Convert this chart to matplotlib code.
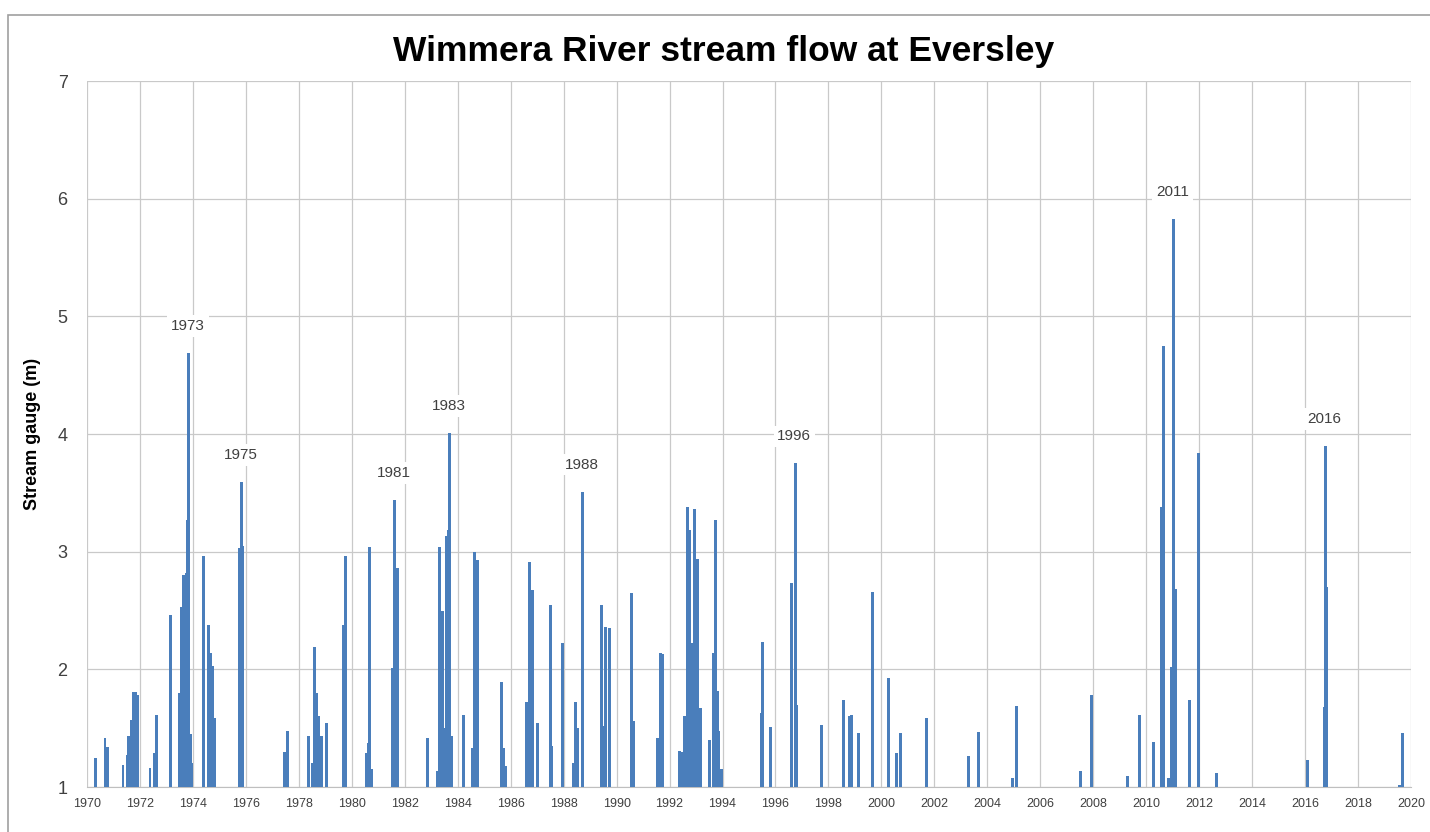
import matplotlib
matplotlib.use("Agg")
import matplotlib.pyplot as plt
from matplotlib.patches import Rectangle
import numpy as np

plt.rcParams['font.family'] = ['Liberation Sans', 'DejaVu Sans']

# Spike dates (decimal years) and stream gauge heights (m)
dates = [1970.33, 1970.68, 1970.77, 1971.36, 1971.51, 1971.58, 1971.68, 1971.77, 1971.85, 1971.92,
         1972.38, 1972.53, 1972.62, 1973.16, 1973.51, 1973.57, 1973.66, 1973.74, 1973.79, 1973.85,
         1973.91, 1973.94, 1974.39, 1974.60, 1974.68, 1974.75, 1974.83, 1975.74, 1975.84, 1975.89,
         1977.47, 1977.58, 1978.38, 1978.50, 1978.60, 1978.68, 1978.75, 1978.85, 1979.06, 1979.70,
         1979.77, 1980.57, 1980.62, 1980.68, 1980.75, 1981.55, 1981.61, 1981.68, 1981.74, 1982.87,
         1983.25, 1983.32, 1983.42, 1983.50, 1983.58, 1983.65, 1983.70, 1983.76, 1984.23, 1984.57,
         1984.64, 1984.75, 1985.66, 1985.74, 1985.81, 1986.60, 1986.72, 1986.83, 1987.02, 1987.50,
         1987.56, 1987.97, 1988.38, 1988.45, 1988.53, 1988.71, 1989.42, 1989.48, 1989.58, 1989.74,
         1990.55, 1990.64, 1991.53, 1991.65, 1991.72, 1992.38, 1992.49, 1992.58, 1992.67, 1992.75,
         1992.85, 1992.94, 1993.07, 1993.17, 1993.51, 1993.66, 1993.74, 1993.80, 1993.85, 1993.96,
         1995.47, 1995.52, 1995.81, 1996.60, 1996.75, 1996.80, 1997.74, 1998.57, 1998.79, 1998.87,
         1999.13, 1999.66, 2000.26, 2000.57, 2000.72, 2001.70, 2003.28, 2003.66, 2004.94, 2005.09,
         2007.51, 2007.92, 2009.28, 2009.74, 2010.26, 2010.58, 2010.64, 2010.85, 2010.96, 2011.04,
         2011.09, 2011.62, 2011.96, 2012.64, 2016.09, 2016.72, 2016.76, 2016.80, 2019.58, 2019.68]
gauge = [1.25, 1.42, 1.34, 1.19, 1.27, 1.43, 1.57, 1.81, 1.81, 1.78,
         1.16, 1.29, 1.61, 2.46, 1.80, 2.53, 2.80, 2.82, 3.27, 4.69,
         1.45, 1.20, 2.96, 2.38, 2.14, 2.03, 1.59, 3.03, 3.59, 3.05,
         1.30, 1.48, 1.43, 1.20, 2.19, 1.80, 1.60, 1.43, 1.54, 2.38,
         2.96, 1.29, 1.37, 3.04, 1.15, 2.01, 3.44, 2.00, 2.86, 1.42,
         1.14, 3.04, 2.50, 1.50, 3.13, 3.18, 4.01, 1.43, 1.61, 1.33,
         3.00, 2.93, 1.89, 1.33, 1.18, 1.72, 2.91, 2.67, 1.54, 2.55,
         1.35, 2.22, 1.20, 1.72, 1.50, 3.51, 2.55, 1.52, 2.36, 2.35,
         2.65, 1.56, 1.42, 2.14, 2.13, 1.31, 1.30, 1.60, 3.38, 3.18,
         2.22, 3.36, 2.94, 1.67, 1.40, 2.14, 3.27, 1.82, 1.48, 1.15,
         1.63, 2.23, 1.51, 2.73, 3.75, 1.70, 1.53, 1.74, 1.60, 1.61,
         1.46, 2.66, 1.93, 1.29, 1.46, 1.59, 1.26, 1.47, 1.08, 1.69,
         1.14, 1.78, 1.09, 1.61, 1.38, 3.38, 4.75, 1.08, 2.02, 5.83,
         2.68, 1.74, 3.84, 1.12, 1.23, 1.68, 3.90, 2.70, 1.02, 1.46]

# Annotated flood years and the date of their peak
flood_labels = ['1973', '1975', '1981', '1983', '1988', '1996', '2011', '2016']
flood_peak_dates = [1973.85, 1975.84, 1981.61, 1983.70, 1988.71, 1996.75, 2011.04, 2016.76]

x_ticks = list(range(1970, 2021, 2))
y_ticks = [1, 2, 3, 4, 5, 6, 7]
baseline = 1.0

fig = plt.figure(figsize=(14.30, 8.32), dpi=100)
ax = fig.add_axes([87/1430, 1-787/832, (1411-87)/1430, (787-81)/832])

d = np.array(dates)
g = np.array(gauge)
ax.bar(d, g - baseline, bottom=baseline, width=0.11, color='#4a7ebb', edgecolor='none', zorder=3)

ax.set_xlim(1970, 2020)
ax.set_ylim(1, 7)
ax.set_xticks(x_ticks)
ax.set_xticklabels([str(t) for t in x_ticks], fontsize=9, color='#404040')
ax.set_yticks(y_ticks)
ax.set_yticklabels([str(t) for t in y_ticks], fontsize=13, color='#404040')
ax.tick_params(axis='both', length=0)
ax.tick_params(axis='x', pad=8)
ax.tick_params(axis='y', pad=14)
ax.grid(True, color='#c9c9c9', linewidth=0.9, zorder=0)
ax.set_axisbelow(True)
for s in ['top', 'right', 'left']:
    ax.spines[s].set_visible(False)
ax.spines['bottom'].set_color('#bfbfbf')

ax.set_ylabel('Stream gauge (m)', fontsize=13, fontweight='bold', labelpad=12)

for lab, pd in zip(flood_labels, flood_peak_dates):
    idx = int(np.argmin(np.abs(d - pd)))
    ax.annotate(lab, xy=(d[idx], g[idx]), xytext=(-1, 27), textcoords='offset pixels',
                ha='center', va='center', fontsize=11, color='#404040', zorder=5,
                bbox=dict(boxstyle='square,pad=0.25', fc='white', ec='none'))

fig.text(0.506, 1-52/832, 'Wimmera River stream flow at Eversley', ha='center', va='center',
         fontsize=25.5, fontweight='bold')

border = Rectangle((8/1430, -0.05), 1.2, 1.05 - 15/832, transform=fig.transFigure,
                   fill=False, ec='#a0a0a0', lw=1.2)
fig.patches.append(border)

fig.savefig('out.png', dpi=100)
